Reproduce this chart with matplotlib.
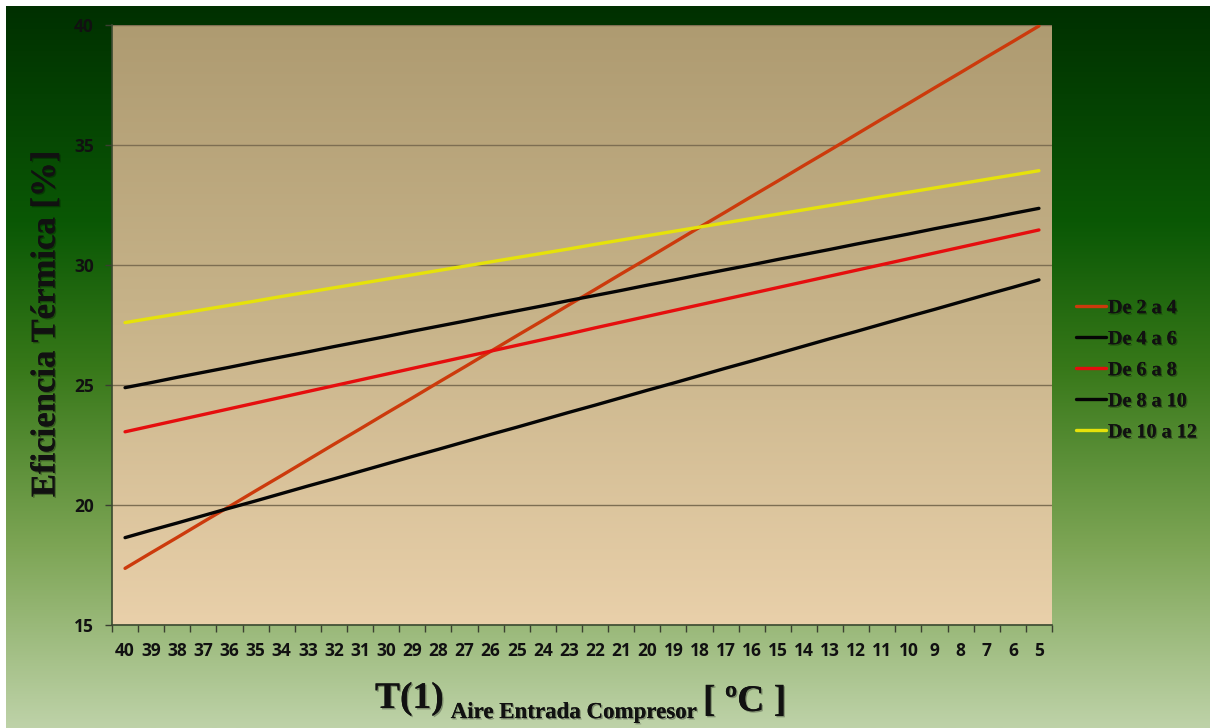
import numpy as np
import matplotlib
matplotlib.use("Agg")
import matplotlib.pyplot as plt
import matplotlib.patheffects as pe
from matplotlib.colors import LinearSegmentedColormap

# Compressor inlet air temperature (ºC), category axis from 40 down to 5
temps = [40, 39, 38, 37, 36, 35, 34, 33, 32, 31, 30, 29, 28, 27, 26, 25, 24, 23,
         22, 21, 20, 19, 18, 17, 16, 15, 14, 13, 12, 11, 10, 9, 8, 7, 6, 5]

series_names = ["De 2 a 4", "De 4 a 6", "De 6 a 8", "De 8 a 10", "De 10 a 12"]

de_2_a_4 = [17.36, 18.01, 18.65, 19.30, 19.94, 20.59, 21.23, 21.88, 22.53, 23.17,
            23.82, 24.46, 25.11, 25.75, 26.40, 27.05, 27.69, 28.34, 28.98, 29.63,
            30.27, 30.92, 31.57, 32.21, 32.86, 33.50, 34.15, 34.79, 35.44, 36.09,
            36.73, 37.38, 38.02, 38.67, 39.31, 39.96]
de_4_a_6 = [24.89, 25.10, 25.32, 25.53, 25.74, 25.96, 26.17, 26.38, 26.60, 26.81,
            27.02, 27.24, 27.45, 27.66, 27.88, 28.09, 28.30, 28.52, 28.73, 28.94,
            29.16, 29.37, 29.59, 29.80, 30.01, 30.23, 30.44, 30.65, 30.87, 31.08,
            31.29, 31.51, 31.72, 31.93, 32.15, 32.36]
de_6_a_8 = [23.05, 23.29, 23.53, 23.77, 24.01, 24.25, 24.49, 24.73, 24.97, 25.21,
            25.45, 25.69, 25.93, 26.17, 26.41, 26.65, 26.89, 27.13, 27.38, 27.62,
            27.86, 28.10, 28.34, 28.58, 28.82, 29.06, 29.30, 29.54, 29.78, 30.02,
            30.26, 30.50, 30.74, 30.98, 31.22, 31.46]
de_8_a_10 = [18.64, 18.95, 19.25, 19.56, 19.87, 20.17, 20.48, 20.79, 21.09, 21.40,
             21.71, 22.02, 22.32, 22.63, 22.94, 23.24, 23.55, 23.86, 24.16, 24.47,
             24.78, 25.08, 25.39, 25.70, 26.00, 26.31, 26.62, 26.93, 27.23, 27.54,
             27.85, 28.15, 28.46, 28.77, 29.07, 29.38]
de_10_a_12 = [27.60, 27.78, 27.96, 28.14, 28.32, 28.50, 28.69, 28.87, 29.05, 29.23,
              29.41, 29.59, 29.77, 29.95, 30.13, 30.31, 30.49, 30.67, 30.86, 31.04,
              31.22, 31.40, 31.58, 31.76, 31.94, 32.12, 32.30, 32.48, 32.66, 32.85,
              33.03, 33.21, 33.39, 33.57, 33.75, 33.93]

y_ticks = [15, 20, 25, 30, 35, 40]

all_series = [de_2_a_4, de_4_a_6, de_6_a_8, de_8_a_10, de_10_a_12]
colors = ["#CC3A0C", "#050505", "#E50E0E", "#050505", "#E6E20A"]

# Tick labels: bold sans
plt.rcParams["font.family"] = ["Open Sans", "DejaVu Sans"]
plt.rcParams["font.weight"] = "bold"
plt.rcParams["xtick.labelsize"] = 12.5
plt.rcParams["ytick.labelsize"] = 12.5
plt.rcParams["xtick.labelcolor"] = "#111111"
plt.rcParams["ytick.labelcolor"] = "#111111"

W, H = 1210, 728
fig = plt.figure(figsize=(W / 100, H / 100), dpi=100, facecolor="white")

# Green gradient backdrop of the chart area
bg = fig.add_axes([6 / W, 0, 1 - 6 / W, 1 - 6 / H], zorder=-10)
bg_cmap = LinearSegmentedColormap.from_list(
    "greens",
    [(0.0, (0 / 255, 48 / 255, 0 / 255)),
     (0.30, (10 / 255, 88 / 255, 5 / 255)),
     (0.50, (55 / 255, 120 / 255, 25 / 255)),
     (0.75, (125 / 255, 165 / 255, 85 / 255)),
     (1.0, (190 / 255, 210 / 255, 168 / 255))])
grad = np.linspace(0, 1, 256).reshape(-1, 1)
bg.imshow(grad, cmap=bg_cmap, aspect="auto", extent=[0, 1, 0, 1], origin="upper")
bg.set_axis_off()

# Plot area
ax = fig.add_axes([112 / W, 1 - 625 / H, 940 / W, 600 / H])
ax.patch.set_visible(False)
pa_cmap = LinearSegmentedColormap.from_list(
    "tan",
    [(0.0, (174 / 255, 155 / 255, 113 / 255)),
     (0.5, (200 / 255, 180 / 255, 138 / 255)),
     (1.0, (233 / 255, 208 / 255, 170 / 255))])
ax.imshow(grad, cmap=pa_cmap, aspect="auto", extent=[0, 1, 0, 1],
          transform=ax.transAxes, origin="upper", zorder=0)

x = np.arange(len(temps))
for name, vals, c in zip(series_names, all_series, colors):
    ax.plot(x, vals, color=c, lw=2.4, label=name, zorder=3,
            solid_capstyle="round")

ax.set_xlim(-0.5, len(temps) - 0.5)
ax.set_ylim(15, 40)
ax.set_yticks(y_ticks)
ax.set_yticklabels([str(v) for v in y_ticks])
ax.yaxis.grid(True, color="#7d6e52", lw=1.0, zorder=1)
ax.set_axisbelow(True)

# Category axis: tick marks between categories, labels at centres
ax.set_xticks(np.arange(-0.5, len(temps), 1.0))
ax.set_xticklabels([])
ax.set_xticks(x, minor=True)
ax.set_xticklabels([str(t) for t in temps], minor=True)
ax.tick_params(axis="x", which="major", length=5, width=1, color="#3a3f30",
               direction="out")
ax.tick_params(axis="x", which="minor", length=0, pad=12, labelsize=12.5)
ax.tick_params(axis="y", length=5, width=1, color="#3a3f30", direction="out",
               pad=8, labelsize=12.5)

for side in ["top", "right"]:
    ax.spines[side].set_visible(False)
for side in ["left", "bottom"]:
    ax.spines[side].set_color("#3a4a30")
    ax.spines[side].set_linewidth(1.2)

shadow = [pe.withSimplePatchShadow(offset=(1.0, -1.0), shadow_rgbFace="black",
                                   alpha=0.3), pe.Normal()]
serif = "Liberation Serif"

# Y axis title
fig.text(46 / W, 1 - 324 / H, "Eficiencia Térmica [%]", rotation=90,
         ha="center", va="center", fontsize=25, fontweight="bold",
         family=serif, color="#111111", path_effects=shadow)

# X axis title built from three pieces
t1 = fig.text(375 / W, 1 - 708 / H, "T(1)", ha="left", va="baseline",
              fontsize=27, fontweight="bold", family=serif, color="#111111",
              path_effects=shadow)
a2 = ax.annotate("Aire Entrada Compresor", xy=(1, 0), xycoords=t1,
                 xytext=(5, -5), textcoords="offset points", ha="left",
                 va="bottom", fontsize=16.5, fontweight="bold", family=serif,
                 color="#111111", path_effects=shadow, annotation_clip=False)
a3 = ax.annotate("[ ºC ]", xy=(1, 0), xycoords=a2, xytext=(5, 3),
                 textcoords="offset points", ha="left", va="bottom",
                 fontsize=27, fontweight="bold", family=serif,
                 color="#111111", path_effects=shadow, annotation_clip=False)

# Legend
leg = fig.legend(loc="upper left", bbox_to_anchor=(1058 / W, 1 - 280 / H),
                 frameon=False, handlelength=1.5, handletextpad=0.08,
                 labelspacing=0.55, prop=dict(family=serif, weight="bold",
                                               size=14.5))
for txt in leg.get_texts():
    txt.set_color("#111111")
    txt.set_path_effects(shadow)
for line in leg.get_lines():
    line.set_linewidth(2.4)

fig.savefig("out.png", dpi=100, facecolor="white")
